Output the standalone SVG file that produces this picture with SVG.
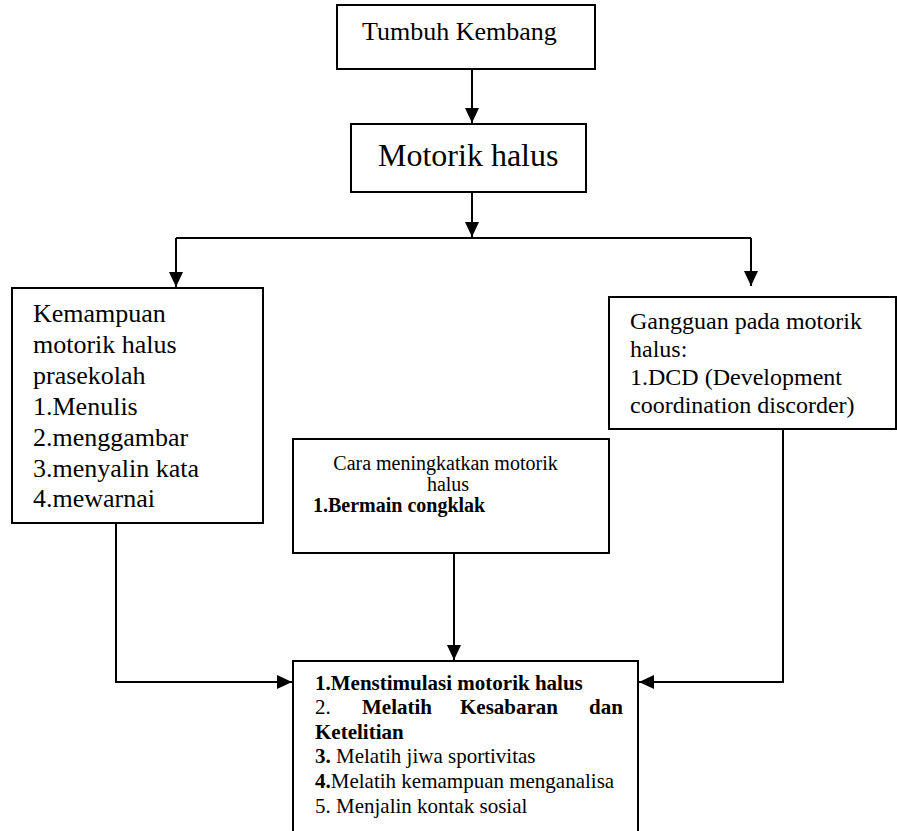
<svg xmlns="http://www.w3.org/2000/svg" width="897" height="831" viewBox="0 0 897 831">
<style>
.box{fill:#fff;stroke:#000;stroke-width:2}
.t{font-family:"Liberation Serif","Times New Roman",serif;fill:#000}
.b{font-weight:bold}
.c{fill:none;stroke:#000;stroke-width:2}
</style>
<defs>
<marker id="ah" markerUnits="userSpaceOnUse" markerWidth="16" markerHeight="14" refX="15" refY="7" orient="auto">
<path d="M0,0 L15,7 L0,14 Z" fill="#000"/>
</marker>
</defs>
<rect width="897" height="831" fill="#fff"/>
<g id="connectors">
<path class="c" d="M472,69 V123" marker-end="url(#ah)"/>
<path class="c" d="M472,192 V237" marker-end="url(#ah)"/>
<path class="c" d="M176,238 H751"/>
<path class="c" d="M176,238 V287" marker-end="url(#ah)"/>
<path class="c" d="M751,238 V286" marker-end="url(#ah)"/>
<path class="c" d="M454,553 V660" marker-end="url(#ah)"/>
<path class="c" d="M116,523 V682 H292" marker-end="url(#ah)"/>
<path class="c" d="M783,429 V682 H639" marker-end="url(#ah)"/>
</g>
<g id="tumbuh-kembang">
<rect class="box" x="337" y="5" width="258" height="64"/>
<text class="t" x="362" y="40" font-size="26">Tumbuh Kembang</text>
</g>
<g id="motorik-halus">
<rect class="box" x="351" y="124" width="235" height="68"/>
<text class="t" x="378" y="166" font-size="32">Motorik halus</text>
</g>
<g id="kemampuan">
<rect class="box" x="12" y="288" width="251" height="235"/>
<text class="t" font-size="26">
<tspan x="33" y="322">Kemampuan</tspan>
<tspan x="33" y="353">motorik halus</tspan>
<tspan x="33" y="384">prasekolah</tspan>
<tspan x="33" y="415">1.Menulis</tspan>
<tspan x="33" y="446">2.menggambar</tspan>
<tspan x="33" y="477">3.menyalin kata</tspan>
<tspan x="33" y="507">4.mewarnai</tspan>
</text>
</g>
<g id="gangguan">
<rect class="box" x="609" y="297" width="287" height="132"/>
<text class="t" font-size="24">
<tspan x="630" y="329">Gangguan pada motorik</tspan>
<tspan x="630" y="357">halus:</tspan>
<tspan x="630" y="385">1.DCD (Development</tspan>
<tspan x="630" y="413">coordination discorder)</tspan>
</text>
</g>
<g id="cara">
<rect class="box" x="293" y="439" width="316" height="114"/>
<text class="t" font-size="20" text-anchor="middle">
<tspan x="448" y="470">Cara meningkatkan motorik</tspan>
<tspan x="448" y="491">halus</tspan>
</text>
<text class="t b" x="313" y="512" font-size="20">1.Bermain congklak</text>
</g>
<g id="manfaat">
<rect class="box" x="293" y="661" width="345" height="190"/>
<text class="t" font-size="21">
<tspan class="b" x="315" y="690">1.Menstimulasi motorik halus</tspan>
<tspan x="315" y="714">2.</tspan>
<tspan class="b" x="362" y="714">Melatih</tspan>
<tspan class="b" x="460" y="714">Kesabaran</tspan>
<tspan class="b" x="589" y="714">dan</tspan>
<tspan class="b" x="315" y="739">Ketelitian</tspan>
<tspan class="b" x="315" y="763">3.</tspan><tspan> Melatih jiwa sportivitas</tspan>
<tspan class="b" x="315" y="788">4.</tspan><tspan>Melatih kemampuan menganalisa</tspan>
<tspan x="315" y="813">5. Menjalin kontak sosial</tspan>
</text>
</g>
</svg>
